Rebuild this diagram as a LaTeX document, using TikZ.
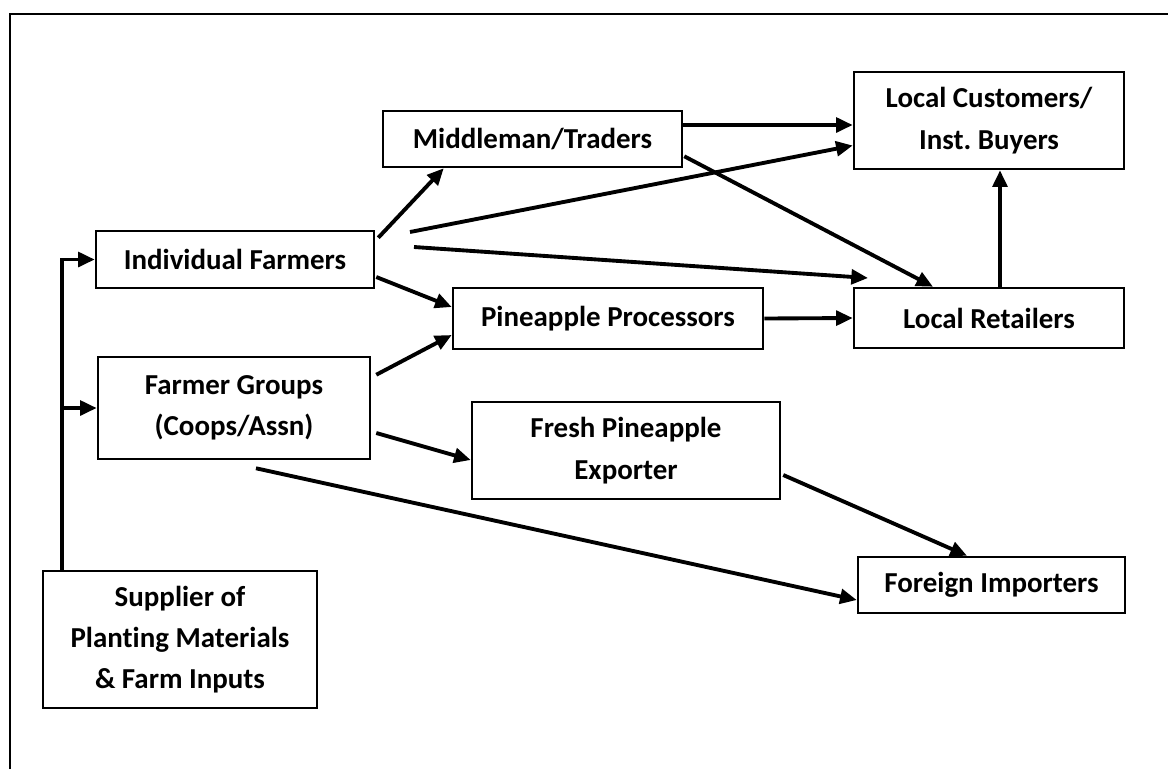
\documentclass[tikz,border=0pt]{standalone}
\usepackage{fontspec}
\setmainfont[Ligatures=NoCommon]{Carlito}
\usetikzlibrary{arrows.meta}
\begin{document}
\begin{tikzpicture}[x=0.75pt, y=-0.75pt,
    box/.style 2 args={draw, line width=1.9pt, inner sep=0pt, align=center,
      font=\bfseries\fontsize{21.7}{31}\selectfont,
      minimum width=#1*0.75pt, minimum height=#2*0.75pt},
    flow/.style={line width=2.9pt, -{Triangle[length=12.5pt, width=11pt]}}]
  \useasboundingbox (0,0) rectangle (1168,769);
  \draw[line width=1.7pt] (10,769) -- (10,14) -- (1168,14);

  \node[box={274}{137}] (sup) at (180,639.5) {Supplier of\\Planting Materials\\\& Farm Inputs};
  \node[box={278}{57}]  (ind) at (235,259.5) {Individual Farmers};
  \node[box={272}{102}] (grp) at (234,408)   {Farmer Groups\\(Coops/Assn)};
  \node[box={299}{56}]  (mid) at (532.5,139) {Middleman/Traders};
  \node[box={310}{61}]  (pro) at (608,318.5) {Pineapple Processors};
  \node[box={308}{97}]  (exp) at (626,450.5) {Fresh Pineapple\\Exporter};
  \node[box={270}{97}]  (cus) at (989,120.5) {Local Customers/\\Inst.\ Buyers};
  \node[box={270}{60}]  (ret) at (989,318)   {Local Retailers};
  \node[box={267}{56}]  (imp) at (991.5,585) {Foreign Importers};

  \coordinate (spine) at (62,571);
  \coordinate (loose1) at (410,232);
  \coordinate (loose2) at (414,247);
  \coordinate (loose2end) at (868,278);

  \draw[flow] (spine) |- (ind.west);
  \draw[flow] (spine) |- (grp.west);
  \draw[flow] ([shift={(3,8)}]ind.north east) -- ([shift={(62,0)}]mid.south west);
  \draw[flow] (loose1) -- ([shift={(0,25)}]cus.west);
  \draw[flow] (loose2) -- (loose2end);
  \draw[flow] ([shift={(1,17.5)}]ind.east) -- ([shift={(0,-11.5)}]pro.west);
  \draw[flow] ([shift={(5,19)}]grp.north east) -- ([shift={(0,16.5)}]pro.west);
  \draw[flow] ([shift={(5,25)}]grp.east) -- ([shift={(0,9.5)}]exp.west);
  \draw[flow] ([shift={(22,8)}]grp.south) -- ([shift={(0,15)}]imp.west);
  \draw[flow] ([shift={(2,24.5)}]exp.east) -- ([shift={(-24.5,0)}]imp.north);
  \draw[flow] ([shift={(0,-14)}]mid.east) -- ([shift={(0,4.5)}]cus.west);
  \draw[flow] ([shift={(1,-12)}]mid.south east) -- ([shift={(-56,0)}]ret.north);
  \draw[flow] (pro.east) -- (ret.west);
  \draw[flow] ([shift={(11,0)}]ret.north) -- ([shift={(11,0)}]cus.south);
\end{tikzpicture}
\end{document}
